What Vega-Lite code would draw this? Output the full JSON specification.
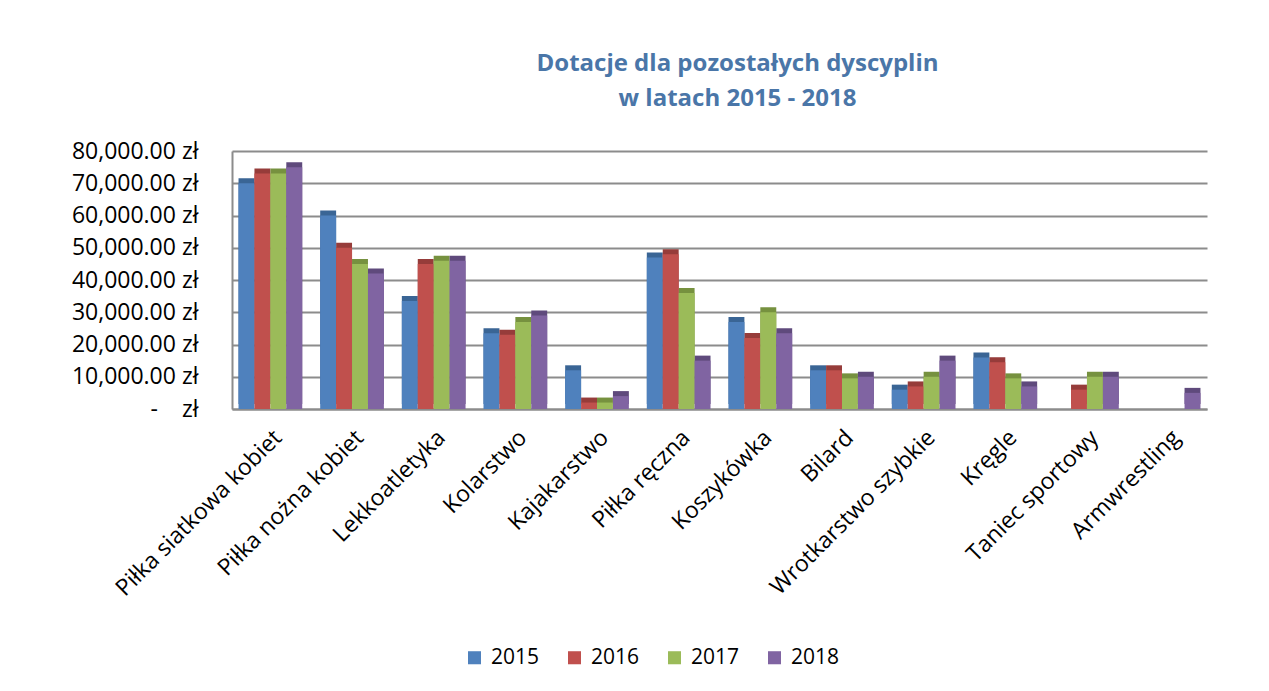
{
  "$schema": "https://vega.github.io/schema/vega-lite/v6.json",
  "autosize": {"type": "none"},
  "padding": {"left": 232, "top": 151, "right": 60, "bottom": 282},
  "width": 975,
  "height": 258,
  "background": "white",
  "title": {
    "text": ["Dotacje dla pozostałych dyscyplin", "w latach 2015 - 2018"],
    "font": "Open Sans",
    "fontSize": 24,
    "fontWeight": "bold",
    "color": "#4a76a8",
    "lineHeight": 35,
    "offset": 29,
    "dx": 18,
    "anchor": "middle"
  },
  "data": {
    "values": [
      {"d": "Piłka siatkowa kobiet", "rok": "2015", "v": 70000},
      {"d": "Piłka siatkowa kobiet", "rok": "2016", "v": 73000},
      {"d": "Piłka siatkowa kobiet", "rok": "2017", "v": 73000},
      {"d": "Piłka siatkowa kobiet", "rok": "2018", "v": 75000},
      {"d": "Piłka nożna kobiet", "rok": "2015", "v": 60000},
      {"d": "Piłka nożna kobiet", "rok": "2016", "v": 50000},
      {"d": "Piłka nożna kobiet", "rok": "2017", "v": 45000},
      {"d": "Piłka nożna kobiet", "rok": "2018", "v": 42000},
      {"d": "Lekkoatletyka", "rok": "2015", "v": 33500},
      {"d": "Lekkoatletyka", "rok": "2016", "v": 45000},
      {"d": "Lekkoatletyka", "rok": "2017", "v": 46000},
      {"d": "Lekkoatletyka", "rok": "2018", "v": 46000},
      {"d": "Kolarstwo", "rok": "2015", "v": 23500},
      {"d": "Kolarstwo", "rok": "2016", "v": 23000},
      {"d": "Kolarstwo", "rok": "2017", "v": 27000},
      {"d": "Kolarstwo", "rok": "2018", "v": 29000},
      {"d": "Kajakarstwo", "rok": "2015", "v": 12000},
      {"d": "Kajakarstwo", "rok": "2016", "v": 2000},
      {"d": "Kajakarstwo", "rok": "2017", "v": 2000},
      {"d": "Kajakarstwo", "rok": "2018", "v": 4000},
      {"d": "Piłka ręczna", "rok": "2015", "v": 47000},
      {"d": "Piłka ręczna", "rok": "2016", "v": 48000},
      {"d": "Piłka ręczna", "rok": "2017", "v": 36000},
      {"d": "Piłka ręczna", "rok": "2018", "v": 15000},
      {"d": "Koszykówka", "rok": "2015", "v": 27000},
      {"d": "Koszykówka", "rok": "2016", "v": 22000},
      {"d": "Koszykówka", "rok": "2017", "v": 30000},
      {"d": "Koszykówka", "rok": "2018", "v": 23500},
      {"d": "Bilard", "rok": "2015", "v": 12000},
      {"d": "Bilard", "rok": "2016", "v": 12000},
      {"d": "Bilard", "rok": "2017", "v": 9500},
      {"d": "Bilard", "rok": "2018", "v": 10000},
      {"d": "Wrotkarstwo szybkie", "rok": "2015", "v": 6000},
      {"d": "Wrotkarstwo szybkie", "rok": "2016", "v": 7000},
      {"d": "Wrotkarstwo szybkie", "rok": "2017", "v": 10000},
      {"d": "Wrotkarstwo szybkie", "rok": "2018", "v": 15000},
      {"d": "Kręgle", "rok": "2015", "v": 16000},
      {"d": "Kręgle", "rok": "2016", "v": 14500},
      {"d": "Kręgle", "rok": "2017", "v": 9500},
      {"d": "Kręgle", "rok": "2018", "v": 7000},
      {"d": "Taniec sportowy", "rok": "2015", "v": 0},
      {"d": "Taniec sportowy", "rok": "2016", "v": 6000},
      {"d": "Taniec sportowy", "rok": "2017", "v": 10000},
      {"d": "Taniec sportowy", "rok": "2018", "v": 10000},
      {"d": "Armwrestling", "rok": "2015", "v": 0},
      {"d": "Armwrestling", "rok": "2016", "v": 0},
      {"d": "Armwrestling", "rok": "2017", "v": 0},
      {"d": "Armwrestling", "rok": "2018", "v": 5000}
    ]
  },
  "encoding": {
    "x": {
      "field": "d",
      "type": "nominal",
      "sort": null,
      "scale": {"paddingInner": 0.22, "paddingOuter": 0.08},
      "axis": {
        "title": null,
        "labelAngle": -45,
        "labelAlign": "right",
        "labelBaseline": "top",
        "labelFont": "Open Sans",
        "labelFontSize": 23,
        "labelColor": "#000000",
        "labelPadding": 17,
        "labelLimit": 500,
        "labelOverlap": false,
        "ticks": false,
        "domainColor": "#8c8c8c",
        "domainWidth": 2,
        "labelOffset": 0
      }
    },
    "xOffset": {"field": "rok", "type": "nominal", "scale": {"paddingInner": 0}},
    "y": {
      "field": "v",
      "type": "quantitative",
      "scale": {"domain": [0, 80000]},
      "axis": {
        "title": null,
        "values": [0, 10000, 20000, 30000, 40000, 50000, 60000, 70000, 80000],
        "labelExpr": "datum.value == 0 ? '-\u00a0\u00a0\u00a0\u00a0zł' : format(datum.value, ',.2f') + ' zł'",
        "labelFont": "Open Sans",
        "labelFontSize": 23,
        "labelColor": "#000000",
        "labelPadding": 34,
        "labelOverlap": false,
        "labelLimit": 400,
        "ticks": false,
        "domainColor": "#8c8c8c",
        "domainWidth": 2,
        "gridColor": "#8c8c8c",
        "gridWidth": 2
      }
    }
  },
  "layer": [
    {
      "mark": {"type": "bar", "xOffset": 5, "yOffset": -5},
      "encoding": {
        "color": {
          "field": "rok",
          "type": "nominal",
          "scale": {"range": ["#3a6595", "#963c3a", "#76913f", "#5f4a7c"]},
          "legend": null
        }
      }
    },
    {
      "mark": {"type": "bar"},
      "encoding": {
        "color": {
          "field": "rok",
          "type": "nominal",
          "scale": {"range": ["#4f81bd", "#c0504d", "#9bbb59", "#8064a2"]},
          "legend": {
            "title": null,
            "orient": "none",
            "direction": "horizontal",
            "legendX": 232,
            "legendY": 496,
            "symbolType": "square",
            "symbolSize": 170,
            "symbolStrokeWidth": 0,
            "labelFont": "Open Sans",
            "labelFontSize": 21,
            "labelColor": "#000000",
            "columnPadding": 24,
            "labelOffset": 6
          }
        }
      }
    }
  ],
  "resolve": {"scale": {"color": "independent"}},
  "config": {
    "view": {"stroke": null}
  }
}
